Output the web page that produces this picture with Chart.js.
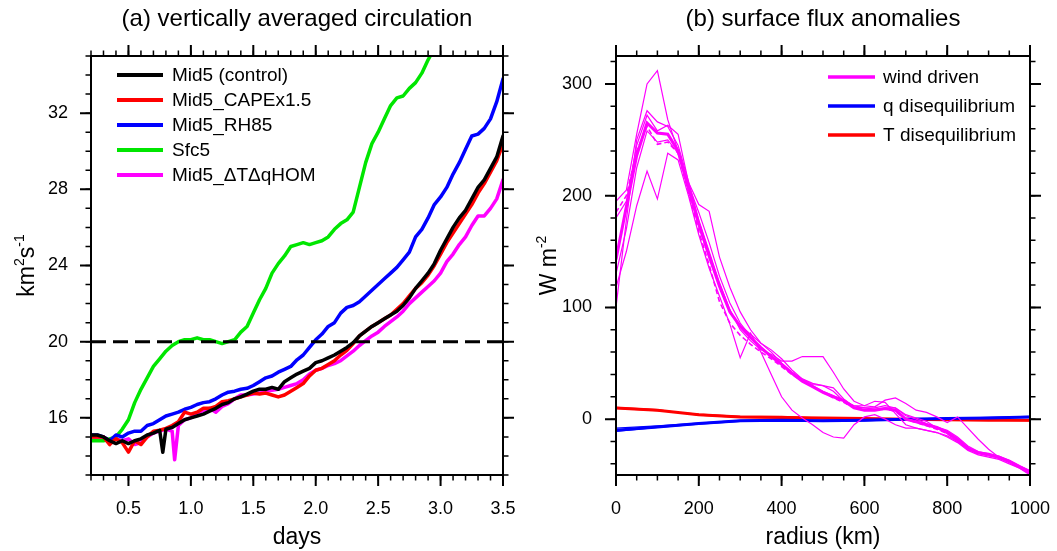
<!DOCTYPE html>
<html>
<head>
<meta charset="utf-8">
<title>Vertically averaged circulation / surface flux anomalies</title>
<script src="https://cdn.jsdelivr.net/npm/chart.js@4.4.1/dist/chart.umd.min.js"></script>
<style>
  html, body { margin: 0; padding: 0; background: #fff; }
  #wrap { position: relative; width: 1057px; height: 551px; }
  .panel { position: absolute; top: 0; height: 551px; }
  #panelA { left: 0; width: 530px; }
  #panelB { left: 530px; width: 527px; }
</style>
</head>
<body>
<div id="wrap">
  <div class="panel" id="panelA"><canvas id="chartA" width="530" height="551"></canvas></div>
  <div class="panel" id="panelB"><canvas id="chartB" width="527" height="551"></canvas></div>
</div>
<script>
// ---------- panel (a) data: circulation (km2/s) vs time (days) ----------
const days = [0.2,0.25,0.3,0.35,0.4,0.45,0.5,0.55,0.6,0.65,0.7,0.75,0.775,0.8,0.85,0.87,0.9,0.95,
  1.0,1.05,1.1,1.15,1.2,1.25,1.3,1.35,1.4,1.45,
  1.5,1.55,1.6,1.65,1.7,1.75,1.8,1.85,1.9,1.95,
  2.0,2.05,2.1,2.15,2.2,2.25,2.3,2.35,2.4,2.45,
  2.5,2.55,2.6,2.65,2.7,2.75,2.8,2.85,2.9,2.95,
  3.0,3.05,3.1,3.15,3.2,3.25,3.3,3.35,3.4,3.45,3.5];

const mid5Control = [15.1,15.1,15.0,14.8,14.65,14.8,14.65,14.8,14.9,15.1,15.2,15.35,14.2,15.4,15.5,null,15.7,15.9,
  16.0,16.1,16.2,16.35,16.5,16.7,16.8,17.0,17.1,17.25,
  17.4,17.5,17.5,17.6,17.5,17.9,18.1,18.3,18.45,18.6,
  18.9,19.0,19.15,19.3,19.5,19.7,19.95,20.3,20.55,20.8,
  21.0,21.2,21.4,21.6,21.9,22.3,22.8,23.2,23.6,24.1,
  24.8,25.4,26.0,26.5,26.9,27.5,28.1,28.5,29.1,29.7,30.8];

const mid5Cape = [15.0,15.0,15.0,14.6,14.9,14.7,14.2,14.8,14.6,15.0,15.3,15.35,null,15.45,15.6,null,15.8,16.3,
  16.2,16.3,16.5,16.5,16.6,16.85,16.9,17.0,17.1,17.2,
  17.3,17.25,17.3,17.2,17.1,17.2,17.4,17.6,17.8,18.2,
  18.5,18.6,18.8,19.0,19.3,19.55,19.9,20.3,20.55,20.8,
  21.0,21.2,21.4,21.7,22.0,22.4,22.8,23.1,23.5,24.0,
  24.6,25.2,25.7,26.2,26.7,27.2,27.8,28.3,28.9,29.5,30.4];

const mid5Rh85 = [15.1,15.1,15.0,14.8,15.1,15.0,15.2,15.3,15.3,15.6,15.7,15.9,null,16.1,16.2,null,16.3,16.45,
  16.55,16.7,16.8,16.85,17.0,17.2,17.35,17.4,17.5,17.55,
  17.7,17.9,18.1,18.2,18.4,18.55,18.7,19.05,19.3,19.7,
  20.1,20.4,20.8,21.0,21.5,21.8,21.9,22.1,22.4,22.7,
  23.0,23.3,23.6,23.9,24.3,24.7,25.5,25.9,26.5,27.2,
  27.6,28.1,28.8,29.4,30.1,30.8,30.9,31.2,31.7,32.6,33.8];

const sfc5 = [14.8,14.8,14.8,14.9,15.0,15.4,15.9,16.8,17.5,18.1,18.7,19.1,null,19.5,19.8,null,20.0,20.1,
  20.1,20.2,20.1,20.1,20.0,19.9,20.0,20.1,20.5,20.8,
  21.5,22.2,22.8,23.6,24.1,24.5,25.0,25.1,25.2,25.1,
  25.2,25.3,25.5,25.9,26.2,26.4,26.8,28.1,29.4,30.4,
  31.0,31.7,32.4,32.8,32.9,33.3,33.6,34.1,34.8,35.4,
  null,null,null,null,null,null,null,null,null,null,null];

const mid5Hom = [15.0,15.0,15.0,14.8,14.9,14.8,14.9,14.6,14.7,15.0,15.2,15.3,null,15.4,15.3,13.8,15.6,15.9,
  16.0,16.2,16.4,16.5,16.3,16.6,16.75,17.0,17.2,17.2,
  17.25,17.3,17.4,17.45,17.5,17.6,17.7,17.8,18.0,18.3,
  18.5,18.6,18.75,18.85,19.0,19.25,19.5,19.8,20.05,20.3,
  20.5,20.8,21.05,21.3,21.6,22.0,22.3,22.6,22.9,23.2,
  23.6,24.2,24.6,25.1,25.5,26.1,26.6,26.6,27.0,27.5,28.5];

const threshold = 20;
const dayTicks = [0.5, 1.0, 1.5, 2.0, 2.5, 3.0, 3.5];
const circTicks = [16, 20, 24, 28, 32];

// ---------- panel (b) data: surface flux anomalies (W/m2) vs radius (km) ----------
const radius = [0,25,50,75,100,125,150,175,200,225,250,275,300,325,350,375,400,425,450,475,
  500,525,550,575,600,625,650,675,700,725,750,775,800,825,850,875,900,925,950,975,1000];

const windMean = [143,190,236,265,256,255,240,207,175,146,119,96,83,73,64,56,49,41,34,29,
  24,20,16.5,10,8,8,9.6,8,0,-2.4,-5,-7.5,-11.5,-18,-26,-30,-31.5,-34,-37.5,-42.5,-47];
const windDashed = [185,200,240,262,246,248,238,203,168,138,105,86,75,67,60,54,47,40,34,29,
  24,19,15,10,8,8,9,7,0,-3,-6,-9,-13,-19,-27,-31,-32,-35,-38,-43,-48];
const windA = [195,205,255,300,312,268,240,210,185,158,128,104,86,74,64,56,50,42,35,30,
  25,21,17,12,10,10,12,10,3,0,-4,-7,-10,-16,-24,-29,-31,-33,-37,-42,-47];
const windB = [100,178,250,276,266,262,245,213,178,150,122,98,80,70,62,58,52,52,56,56,
  56,42,27,16,12,11,17,19,14,8,6,2,-3,2,-8,-18,-27,-34,-38,-42,-46];
const windC = [118,150,191,222,197,238,232,200,165,135,110,85,55,77,60,40,20,8,1,-5,
  -12,-16,-17,-5,2,4,0,-5,-8,-8,-10,-12,-15,-20,-27,-30,-32,-34,-37,-43,-48];
const windD = [180,195,245,272,258,263,255,212,192,186,145,118,96,80,68,60,50,42,36,31,
  30,28,18,11,10,9,10,10,4,1,-2,-8,-13,-20,-27,-31,-33,-35,-39,-44,-49];
const windE = [130,170,225,258,248,250,238,205,172,145,118,96,84,76,68,62,54,44,36,32,
  30,25,16,12,12,16,15,5,-5,-8,-10,-12,-16,-21,-28,-32,-34,-36,-40,-44,-50];

const radiusCoarse = [0,100,200,300,400,500,600,700,800,900,1000];
const qMean = [-10,-7,-4,-1.5,-1,-1.5,-1,0,0.5,1,2];
const qA = [-8,-6,-3.5,-1,-0.5,-2,-1.5,0,0.5,1.5,2.5];
const qB = [-11,-7.5,-4.5,-2,-1.5,-1,-0.5,0,1,1,1.5];
const tMean = [10,8,4,2,1.5,1,0.5,0,-0.5,-1,-1];
const tA = [9.5,7.5,4.5,2.5,2.5,1,0.5,0.5,0,-0.5,-1];
const tB = [10.5,8.5,3.5,1.5,1,0.5,0,-0.5,-1,-1,-1.5];

const radiusTicks = [0, 200, 400, 600, 800, 1000];
const fluxTicks = [0, 100, 200, 300];

// ---------- shared helpers ----------
const FONT = '"Liberation Sans", Arial, Helvetica, sans-serif';
Chart.defaults.font.family = FONT;
Chart.defaults.color = '#000';

const pts = (xs, ys) => xs.map((x, i) => ({ x: x, y: ys[i] }));

function steps(from, to, step) {
  const out = [];
  for (let v = from; v <= to + 1e-9; v += step) out.push(Math.round(v * 1000) / 1000);
  return out;
}

function richWidth(ctx, parts, size) {
  let w = 0;
  parts.forEach(p => {
    ctx.font = (p.sup ? Math.round(size * 0.62) : size) + 'px ' + FONT;
    w += ctx.measureText(p.t).width;
  });
  return w;
}

function drawRich(ctx, parts, x, y, size) {
  parts.forEach(p => {
    ctx.font = (p.sup ? Math.round(size * 0.62) : size) + 'px ' + FONT;
    ctx.fillText(p.t, x, p.sup ? y - size * 0.42 : y);
    x += ctx.measureText(p.t).width;
  });
}

// frame, outward ticks on all sides, titles and the in-plot legend (NCL look)
const panelDecor = {
  id: 'panelDecor',
  afterDraw(chart, args, o) {
    const ctx = chart.ctx;
    const a = chart.chartArea;
    const xs = chart.scales.x, ys = chart.scales.y;
    ctx.save();
    ctx.strokeStyle = '#000';
    ctx.fillStyle = '#000';
    ctx.setLineDash([]);

    function ticks(xv, yv, len, lw) {
      ctx.lineWidth = lw;
      ctx.beginPath();
      xv.forEach(v => {
        const px = xs.getPixelForValue(v);
        ctx.moveTo(px, a.bottom); ctx.lineTo(px, a.bottom + len);
        ctx.moveTo(px, a.top); ctx.lineTo(px, a.top - len);
      });
      yv.forEach(v => {
        const py = ys.getPixelForValue(v);
        ctx.moveTo(a.left, py); ctx.lineTo(a.left - len, py);
        ctx.moveTo(a.right, py); ctx.lineTo(a.right + len, py);
      });
      ctx.stroke();
    }
    ticks(o.xMinor, o.yMinor, 5.5, 1.5);
    ticks(o.xMajor, o.yMajor, 11, 2);

    ctx.lineWidth = 2;
    ctx.strokeRect(a.left, a.top, a.right - a.left, a.bottom - a.top);

    const cx = (a.left + a.right) / 2;
    ctx.textAlign = 'center';
    ctx.textBaseline = 'alphabetic';
    ctx.font = '24px ' + FONT;
    ctx.fillText(o.title, cx, 26);
    ctx.font = '23px ' + FONT;
    ctx.fillText(o.xTitle, cx, 544);

    // rotated y title with superscripts
    ctx.save();
    ctx.translate(o.yTitleX, (a.top + a.bottom) / 2);
    ctx.rotate(-Math.PI / 2);
    ctx.textAlign = 'left';
    const w = richWidth(ctx, o.yTitle, 23);
    drawRich(ctx, o.yTitle, -w / 2, 0, 23);
    ctx.restore();

    // legend
    const entries = chart.data.datasets.filter(d => d.inLegend);
    ctx.textAlign = 'left';
    ctx.textBaseline = 'middle';
    ctx.lineCap = 'butt';
    entries.forEach((d, i) => {
      const y = o.legendY + i * o.legendGap;
      ctx.strokeStyle = d.borderColor;
      ctx.lineWidth = o.legendLineWidth;
      ctx.beginPath();
      ctx.moveTo(o.legendX0, y);
      ctx.lineTo(o.legendX1, y);
      ctx.stroke();
      ctx.font = '19px ' + FONT;
      ctx.fillStyle = '#000';
      ctx.fillText(d.label, o.legendTextX, y + 1);
    });
    ctx.restore();
  }
};

function axis(min, max, tickValues, fmt, pad, size, horizontal) {
  return {
    type: 'linear',
    min: min,
    max: max,
    grid: { display: false, drawTicks: false },
    border: { display: false },
    ticks: { font: { size: 18 }, color: '#000', padding: pad, autoSkip: false, maxRotation: 0, callback: fmt },
    afterBuildTicks: s => { s.ticks = tickValues.map(v => ({ value: v })); },
    afterFit: s => {
      if (horizontal) { s.height = size; s.paddingLeft = 0; s.paddingRight = 0; }
      else { s.width = size; s.paddingTop = 0; s.paddingBottom = 0; }
    }
  };
}

// ---------- panel (a) ----------
const lineA = (label, values, color) => ({
  label: label, data: pts(days, values), borderColor: color, borderWidth: 3.5,
  pointRadius: 0, spanGaps: true, borderJoinStyle: 'round', borderCapStyle: 'round',
  clip: 0, inLegend: true
});

new Chart(document.getElementById('chartA'), {
  type: 'line',
  data: {
    datasets: [
      { label: 'threshold', data: pts([days[0], days[days.length - 1]], [threshold, threshold]),
        borderColor: '#000', borderWidth: 3, borderDash: [15, 7], pointRadius: 0, clip: 0 },
      lineA('Mid5 (control)', mid5Control, '#000000'),
      lineA('Mid5_CAPEx1.5', mid5Cape, '#ff0000'),
      lineA('Mid5_RH85', mid5Rh85, '#0000ff'),
      lineA('Sfc5', sfc5, '#00e600'),
      lineA('Mid5_\u0394T\u0394qHOM', mid5Hom, '#ff00ff')
    ]
  },
  options: {
    responsive: false,
    animation: false,
    layout: { padding: { left: 0, right: 27, top: 56, bottom: 0 } },
    scales: {
      x: axis(0.2, 3.5, dayTicks, v => Number(v).toFixed(1), 23, 76, true),
      y: axis(13, 35, circTicks, v => String(v), 23, 91, false)
    },
    plugins: {
      legend: { display: false },
      tooltip: { enabled: false },
      panelDecor: {
        title: '(a) vertically averaged circulation',
        xTitle: 'days',
        yTitle: [{ t: 'km' }, { t: '2', sup: true }, { t: 's' }, { t: '-1', sup: true }],
        yTitleX: 34,
        xMajor: dayTicks, xMinor: steps(0.2, 3.5, 0.1),
        yMajor: circTicks, yMinor: steps(13, 35, 1),
        legendX0: 117, legendX1: 163, legendTextX: 172, legendY: 75, legendGap: 25, legendLineWidth: 4
      }
    }
  },
  plugins: [panelDecor]
});

// ---------- panel (b) ----------
const member = (values, color) => ({
  label: '', data: pts(radius, values), borderColor: color, borderWidth: 1.2,
  pointRadius: 0, clip: 0
});
const memberQT = (values, color) => ({
  label: '', data: pts(radiusCoarse, values), borderColor: color, borderWidth: 1.2,
  pointRadius: 0, clip: 0
});

new Chart(document.getElementById('chartB'), {
  type: 'line',
  data: {
    datasets: [
      { label: 'wind driven', data: pts(radius, windMean), borderColor: '#ff00ff', borderWidth: 3,
        pointRadius: 0, clip: 0, inLegend: true },
      { label: '', data: pts(radius, windDashed), borderColor: '#ff00ff', borderWidth: 1.6,
        borderDash: [5, 3], pointRadius: 0, clip: 0 },
      member(windA, '#ff00ff'),
      member(windB, '#ff00ff'),
      member(windC, '#ff00ff'),
      member(windD, '#ff00ff'),
      member(windE, '#ff00ff'),
      { label: 'q disequilibrium', data: pts(radiusCoarse, qMean), borderColor: '#0000ff', borderWidth: 3,
        pointRadius: 0, clip: 0, inLegend: true },
      memberQT(qA, '#0000ff'),
      memberQT(qB, '#0000ff'),
      { label: 'T disequilibrium', data: pts(radiusCoarse, tMean), borderColor: '#ff0000', borderWidth: 3,
        pointRadius: 0, clip: 0, inLegend: true },
      memberQT(tA, '#ff0000'),
      memberQT(tB, '#ff0000')
    ]
  },
  options: {
    responsive: false,
    animation: false,
    layout: { padding: { left: 0, right: 27, top: 56, bottom: 0 } },
    scales: {
      x: axis(0, 1000, radiusTicks, v => String(v), 23, 76, true),
      y: axis(-50, 325, fluxTicks, v => String(v), 24, 86, false)
    },
    plugins: {
      legend: { display: false },
      tooltip: { enabled: false },
      panelDecor: {
        title: '(b) surface flux anomalies',
        xTitle: 'radius (km)',
        yTitle: [{ t: 'W m' }, { t: '-2', sup: true }],
        yTitleX: 26,
        xMajor: radiusTicks, xMinor: steps(0, 1000, 50),
        yMajor: fluxTicks, yMinor: steps(-40, 320, 20),
        legendX0: 298, legendX1: 345, legendTextX: 353, legendY: 77, legendGap: 29, legendLineWidth: 3.5
      }
    }
  },
  plugins: [panelDecor]
});
</script>
</body>
</html>
